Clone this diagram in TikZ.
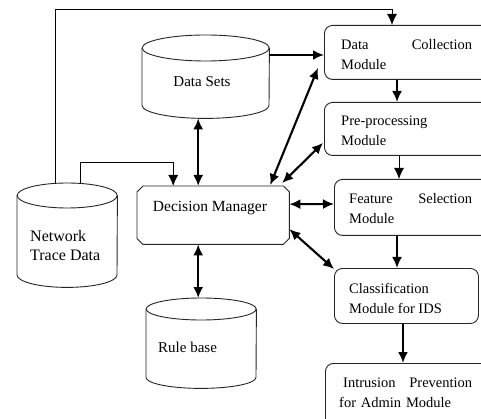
\documentclass[tikz,border=0pt]{standalone}
\usepackage{fontspec}
\setmainfont{Liberation Serif}
\usetikzlibrary{arrows.meta,calc}

\tikzset{
  edgeline/.style={draw=black!85, line width=0.9pt},
  modbox/.style={edgeline, rounded corners=8pt, anchor=north west, inner sep=0pt},
  zone/.style={inner sep=0pt, anchor=north west},
  lbl/.style={inner sep=0pt, font=\fontsize{14.5}{20}\selectfont, align=left},
  tip/.tip={Latex[length=11pt,width=10pt]},
  oneway/.style={line width=2.1pt, -tip},
  twoway/.style={line width=2.1pt, tip-tip},
  feed/.style={line width=0.9pt, -tip},
}

% database drum drawn over a named zone: #1 zone, #2 x radius, #3 y radius
\newcommand{\drumat}[3]{%
  \draw[edgeline] ($(#1.north west)+(0,#3)$) -- ($(#1.south west)+(0,-#3)$)
    arc[start angle=180, end angle=0, x radius=#2, y radius=#3]
    -- ($(#1.north east)+(0,#3)$);
  \draw[edgeline] ($(#1.north)+(0,#3)$) ellipse [x radius=#2, y radius=#3];
}

% box with cut corners drawn over a named zone: #1 zone, #2 cut size
\newcommand{\cutbox}[2]{%
  \draw[edgeline] ($(#1.north west)+(#2,0)$) -- ($(#1.north east)+(-#2,0)$)
    -- ($(#1.north east)+(0,#2)$) -- ($(#1.south east)+(0,-#2)$)
    -- ($(#1.south east)+(-#2,0)$) -- ($(#1.south west)+(#2,0)$)
    -- ($(#1.south west)+(0,-#2)$) -- ($(#1.north west)+(0,#2)$) -- cycle;
}

\begin{document}
\begin{tikzpicture}[x=1pt, y=-1pt]
  \useasboundingbox (0,0) rectangle (481,419);
  \fill[white] (0,0) rectangle (481,419);
  \clip (0,0) rectangle (481,419);

  % storage drums
  \node[zone, minimum width=127, minimum height=83] (ds) at (142,35) {};
  \node[zone, minimum width=100, minimum height=104] (ntd) at (17,183) {};
  \node[zone, minimum width=110, minimum height=90] (rb) at (146,298) {};
  \drumat{ds}{63.5}{13}
  \drumat{ntd}{50}{12.5}
  \drumat{rb}{55}{11}
  \node[lbl, font=\fontsize{15}{20}\selectfont] (dstext) at (202,82) {Data Sets};
  \node[lbl, anchor=west, font=\fontsize{16}{19}\selectfont] (ntdtext) at (30,246) {Network\\Trace Data};
  \node[lbl, anchor=west, font=\fontsize{15}{19}\selectfont] (rbtext) at (158,347) {Rule base};

  % central manager
  \node[zone, minimum width=152, minimum height=58] (dm) at (137,186) {};
  \cutbox{dm}{6}
  \node[lbl, font=\fontsize{15.5}{20}\selectfont] (dmtext) at (210,208) {Decision Manager};

  % processing chain
  \node[modbox, minimum width=200, minimum height=54] (dc) at (324,25) {};
  \node[modbox, minimum width=200, minimum height=53] (pp) at (324,102) {};
  \node[modbox, minimum width=190, minimum height=56] (fs) at (334,179) {};
  \node[modbox, minimum width=144, minimum height=55] (cl) at (334,268) {};
  \node[modbox, minimum width=200, minimum height=80] (ip) at (325,363) {};

  \node[lbl, anchor=west, text width=131pt] (dctext) at (341,55) {Data\hfill Collection\\Module};
  \node[lbl, anchor=west] (pptext) at (341,130.5) {Pre-processing\\Module};
  \node[lbl, anchor=west, text width=123pt] (fstext) at (349,209) {Feature\hfill Selection\\Module};
  \node[lbl, anchor=west] (cltext) at (349,298) {Classification\\Module for IDS};
  \node[lbl, anchor=west, text width=133pt] (iptext) at (339,392.5) {\hspace*{4pt}Intrusion\hfill Prevention\\for Admin Module};

  % feeds from the trace data
  \coordinate (looptop) at (55,9);
  \coordinate (ntdbend) at (80,162);
  \draw[feed] ($(ntd.north west)+(38,1)$) -- (looptop) -| ($(dc.north west)+(68,0)$);
  \draw[feed] ($(ntd.north west)+(63,1)$) -- (ntdbend) -| ($(dm.north)+(-40,0)$);

  % links around the manager
  \draw[twoway] ($(ds.south)+(-7.5,0)$) -- ($(dm.north)+(-15,0)$);
  \draw[oneway] ($(ds.north east)+(0,20)$) -- ($(dc.north west)+(0,30)$);
  \draw[twoway] ($(dm.north)+(57,-1)$) -- ($(dc.south west)+(-6,-12)$);
  \draw[twoway] ($(dm.north)+(69,-3)$) -- ($(pp.south west)+(-1,-13)$);
  \draw[twoway] ($(dm.east)+(0,-11)$) -- ($(fs.north west)+(0,25)$);
  \draw[twoway] ($(dm.east)+(0,14)$) -- ($(cl.north west)+(0,1)$);
  \draw[twoway] ($(dm.south)+(-15,0)$) -- ($(rb.north)+(-3,0)$);

  % chain arrows
  \draw[oneway] ($(dc.south west)+(73,0)$) -- ($(pp.north west)+(73,0)$);
  \draw[feed]   ($(pp.south west)+(75,0)$) -- ($(fs.north west)+(65,0)$);
  \draw[oneway] ($(fs.south west)+(63,0)$) -- ($(cl.north west)+(63,0)$);
  \draw[oneway] ($(cl.south west)+(69,0)$) -- ($(ip.north west)+(78,0)$);
\end{tikzpicture}
\end{document}
